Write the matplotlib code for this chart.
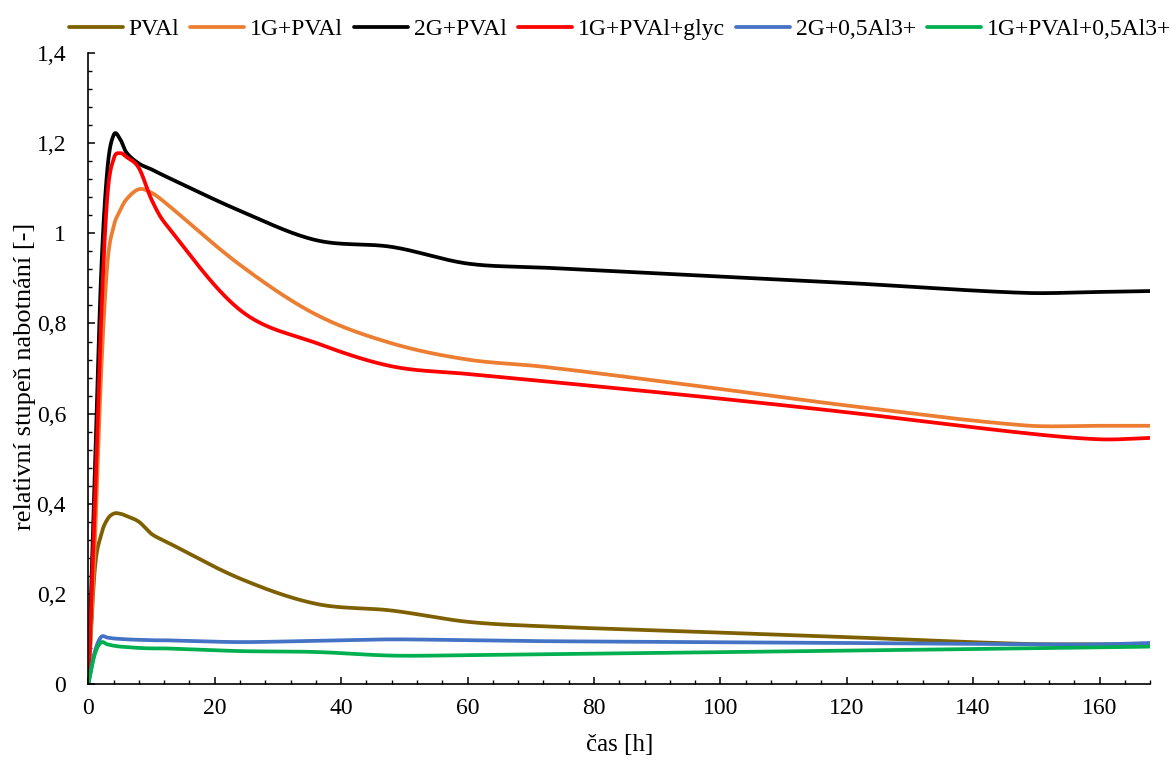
import numpy as np
import matplotlib
matplotlib.use("Agg")
import matplotlib.pyplot as plt
from matplotlib.ticker import MultipleLocator, FuncFormatter

plt.rcParams['font.family'] = ['Liberation Serif', 'DejaVu Serif']

# sampling times [h]
time_h = [0, 1, 2, 3, 4, 5, 6, 8, 10, 12, 24, 36, 48, 60, 72, 96, 120, 148, 160, 168]

# relative swelling degree [-]
pval = [0, 0.25, 0.33, 0.365, 0.378, 0.378, 0.373, 0.36, 0.333, 0.318, 0.234, 0.178,
        0.163, 0.138, 0.128, 0.116, 0.104, 0.089, 0.088, 0.088]
g1_pval = [0, 0.30, 0.68, 0.93, 1.015, 1.05, 1.075, 1.098, 1.09, 1.07, 0.93, 0.82,
           0.756, 0.72, 0.704, 0.662, 0.618, 0.574, 0.573, 0.573]
g2_pval = [0, 0.45, 0.90, 1.14, 1.218, 1.21, 1.18, 1.155, 1.142, 1.128, 1.05, 0.985,
           0.97, 0.933, 0.924, 0.907, 0.89, 0.868, 0.870, 0.872]
g1_pval_glyc = [0, 0.38, 0.80, 1.08, 1.165, 1.178, 1.17, 1.145, 1.075, 1.025, 0.83, 0.757,
                0.705, 0.688, 0.672, 0.639, 0.603, 0.557, 0.543, 0.546]
g2_al = [0, 0.07, 0.104, 0.103, 0.101, 0.100, 0.099, 0.098, 0.097, 0.097, 0.093, 0.096,
         0.099, 0.097, 0.095, 0.093, 0.091, 0.088, 0.088, 0.091]
g1_pval_al = [0, 0.065, 0.092, 0.088, 0.085, 0.083, 0.082, 0.080, 0.079, 0.079, 0.073, 0.071,
              0.063, 0.064, 0.066, 0.070, 0.074, 0.079, 0.081, 0.083]

labels = ["PVAl", "1G+PVAl", "2G+PVAl", "1G+PVAl+glyc", "2G+0,5Al3+", "1G+PVAl+0,5Al3+"]
series = [pval, g1_pval, g2_pval, g1_pval_glyc, g2_al, g1_pval_al]
colors = ["#7F6000", "#ED7D31", "#000000", "#FF0000", "#4472C4", "#00B050"]


def smooth_line(x, y, n=40):
    """Cubic Hermite curve through the points (smoothed line)."""
    x = np.asarray(x, float)
    y = np.asarray(y, float)
    m = np.empty_like(y)
    m[1:-1] = (y[2:] - y[:-2]) / (x[2:] - x[:-2])
    m[0] = (y[1] - y[0]) / (x[1] - x[0])
    m[-1] = (y[-1] - y[-2]) / (x[-1] - x[-2])
    xs, ys = [], []
    for i in range(len(x) - 1):
        h = x[i + 1] - x[i]
        s = np.linspace(0, 1, n, endpoint=(i == len(x) - 2))
        h00 = 2 * s**3 - 3 * s**2 + 1
        h10 = s**3 - 2 * s**2 + s
        h01 = -2 * s**3 + 3 * s**2
        h11 = s**3 - s**2
        xs.append(x[i] + s * h)
        ys.append(h00 * y[i] + h10 * h * m[i] + h01 * y[i + 1] + h11 * h * m[i + 1])
    return np.concatenate(xs), np.concatenate(ys)


fig = plt.figure(figsize=(11.76, 7.61), dpi=100)
ax = fig.add_axes([0.0751, 0.1012, 0.9029, 0.8290])

for vals, lab, col in zip(series, labels, colors):
    xs, ys = smooth_line(time_h, vals)
    ax.plot(xs, ys, color=col, lw=2.7, label=lab, solid_capstyle='round')

ax.set_xlim(0, 168)
ax.set_ylim(0, 1.4)
ax.xaxis.set_major_locator(MultipleLocator(20))
ax.xaxis.set_minor_locator(MultipleLocator(4))
ax.yaxis.set_major_locator(MultipleLocator(0.2))
ax.yaxis.set_minor_locator(MultipleLocator(0.04))


def comma_fmt(v, pos):
    return "{:g}".format(round(v, 1)).replace(".", ",")


ax.yaxis.set_major_formatter(FuncFormatter(comma_fmt))

for side in ("top", "right"):
    ax.spines[side].set_visible(False)
for side in ("left", "bottom"):
    ax.spines[side].set_linewidth(1.2)

ax.tick_params(which="major", direction="in", length=5, width=1.1, labelsize=17)
ax.tick_params(which="minor", direction="in", length=3, width=1.0)
ax.tick_params(axis="x", which="major", pad=10)
ax.tick_params(axis="y", which="major", pad=16)

ax.set_xlabel("čas [h]", fontsize=18, labelpad=11)
ax.set_ylabel("relativní stupeň nabotnání [-]", fontsize=19)
ax.yaxis.set_label_coords(-0.049, 0.487)

fig.legend(loc="upper center", bbox_to_anchor=(0.527, 1.003), ncol=6, frameon=False,
           fontsize=17, handlelength=2.3, handletextpad=0.25, columnspacing=0.45)

fig.savefig("out.png", dpi=100)
